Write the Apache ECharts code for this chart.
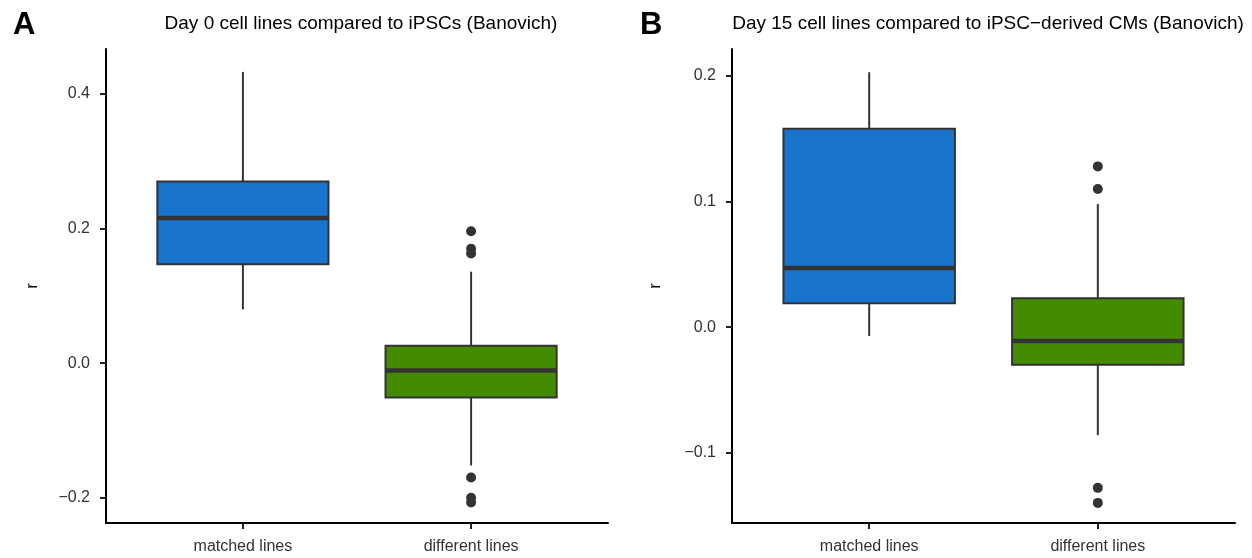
<!DOCTYPE html>
<html>
<head>
<meta charset="utf-8">
<script src="https://cdn.jsdelivr.net/npm/echarts@6/dist/echarts.min.js"></script>
<style>
  html, body { margin: 0; padding: 0; background: #fff; }
  #chart { width: 1252px; height: 558px; }
</style>
</head>
<body>
<div id="chart"></div>
<script>
// Groups shown on each x axis
const categories = ['matched lines', 'different lines'];

// Box statistics per group: [lower whisker, Q1, median, Q3, upper whisker]
const day0Matched   = [0.080, 0.147, 0.216, 0.270, 0.433];
const day0Different = [-0.152, -0.051, -0.011, 0.026, 0.136];
const day0Outliers  = [0.196, 0.170, 0.163, -0.170, -0.200, -0.207]; // different lines

const day15Matched   = [-0.007, 0.019, 0.047, 0.158, 0.203];
const day15Different = [-0.086, -0.030, -0.011, 0.023, 0.098];
const day15Outliers  = [0.128, 0.110, -0.128, -0.140]; // different lines

// Tick labels
const day0Ticks  = [-0.2, 0.0, 0.2, 0.4];
const day15Ticks = [-0.1, 0.0, 0.1, 0.2];

const BLUE = '#1874CD';
const GREEN = '#458B00';
const INK = '#333333';
const FONT = 'Liberation Sans, Arial, sans-serif';

function fmt(v) {
  return (v < 0 ? '\u2212' : '') + Math.abs(v).toFixed(1);
}

// Draws one ggplot-style box: whiskers, filled box, thick median bar
function renderBox(params, api) {
  const x = api.value(0);
  const lo = api.coord([x, api.value(1)]);
  const q1 = api.coord([x, api.value(2)]);
  const med = api.coord([x, api.value(3)]);
  const q3 = api.coord([x, api.value(4)]);
  const hi = api.coord([x, api.value(5)]);
  const half = api.size([0.75, 0])[0] / 2;
  const color = api.value(6) === 0 ? BLUE : GREEN;
  const cx = lo[0];
  return {
    type: 'group',
    children: [
      { type: 'line', shape: { x1: cx, y1: hi[1], x2: cx, y2: q3[1] }, style: { stroke: INK, lineWidth: 2 } },
      { type: 'line', shape: { x1: cx, y1: q1[1], x2: cx, y2: lo[1] }, style: { stroke: INK, lineWidth: 2 } },
      { type: 'rect', shape: { x: cx - half, y: q3[1], width: half * 2, height: q1[1] - q3[1] },
        style: { fill: color, stroke: INK, lineWidth: 2 } },
      { type: 'line', shape: { x1: cx - half, y1: med[1], x2: cx + half, y2: med[1] }, style: { stroke: INK, lineWidth: 4.5 } }
    ]
  };
}

function boxRows(matched, different) {
  return [
    [1].concat(matched, [0]),
    [2].concat(different, [1])
  ];
}

function xAxisFor(gridIndex) {
  return {
    type: 'value', gridIndex, min: 0.4, max: 2.6,
    splitLine: { show: false },
    axisLine: { show: true, onZero: false, lineStyle: { color: '#000', width: 2 } },
    axisTick: { show: true, customValues: [1, 2], length: 6, lineStyle: { color: '#222', width: 2 } },
    axisLabel: {
      customValues: [1, 2], margin: 16,
      formatter: v => categories[Math.round(v) - 1],
      color: INK, fontSize: 16, fontFamily: FONT
    }
  };
}

function yAxisFor(gridIndex, min, max, ticks, gap) {
  return {
    type: 'value', gridIndex, min, max,
    name: 'r', nameLocation: 'middle', nameGap: gap, nameRotate: 90,
    nameTextStyle: { color: '#000', fontSize: 17, fontFamily: FONT },
    splitLine: { show: false },
    axisLine: { show: true, onZero: false, lineStyle: { color: '#000', width: 2 } },
    axisTick: { show: true, customValues: ticks, length: 6, lineStyle: { color: '#222', width: 2 } },
    axisLabel: {
      customValues: ticks, margin: 16, formatter: fmt,
      color: INK, fontSize: 16, fontFamily: FONT
    }
  };
}

const chart = echarts.init(document.getElementById('chart'), null, { renderer: 'canvas' });

chart.setOption({
  animation: false,
  backgroundColor: '#fff',
  title: [
    { text: 'A', left: 8, top: 5, textStyle: { fontSize: 31, fontWeight: 'bold', color: '#000', fontFamily: FONT } },
    { text: 'B', left: 635, top: 5, textStyle: { fontSize: 31, fontWeight: 'bold', color: '#000', fontFamily: FONT } },
    { text: 'Day 0 cell lines compared to iPSCs (Banovich)', left: 356, top: 9, textAlign: 'center',
      textStyle: { fontSize: 19, fontWeight: 'normal', color: '#000', fontFamily: FONT } },
    { text: 'Day 15 cell lines compared to iPSC\u2212derived CMs (Banovich)', left: 983, top: 9, textAlign: 'center',
      textStyle: { fontSize: 19, fontWeight: 'normal', color: '#000', fontFamily: FONT } }
  ],
  grid: [
    { left: 106, top: 49, width: 502, height: 474 },
    { left: 732, top: 49, width: 503, height: 474 }
  ],
  xAxis: [xAxisFor(0), xAxisFor(1)],
  yAxis: [
    yAxisFor(0, -0.2375, 0.467, day0Ticks, 65),
    yAxisFor(1, -0.156, 0.2215, day15Ticks, 68)
  ],
  series: [
    { type: 'custom', xAxisIndex: 0, yAxisIndex: 0, renderItem: renderBox, data: boxRows(day0Matched, day0Different), z: 2 },
    { type: 'scatter', xAxisIndex: 0, yAxisIndex: 0, symbolSize: 10, itemStyle: { color: INK, opacity: 1 },
      data: day0Outliers.map(v => [2, v]), z: 3 },
    { type: 'custom', xAxisIndex: 1, yAxisIndex: 1, renderItem: renderBox, data: boxRows(day15Matched, day15Different), z: 2 },
    { type: 'scatter', xAxisIndex: 1, yAxisIndex: 1, symbolSize: 10, itemStyle: { color: INK, opacity: 1 },
      data: day15Outliers.map(v => [2, v]), z: 3 }
  ]
});
</script>
</body>
</html>
